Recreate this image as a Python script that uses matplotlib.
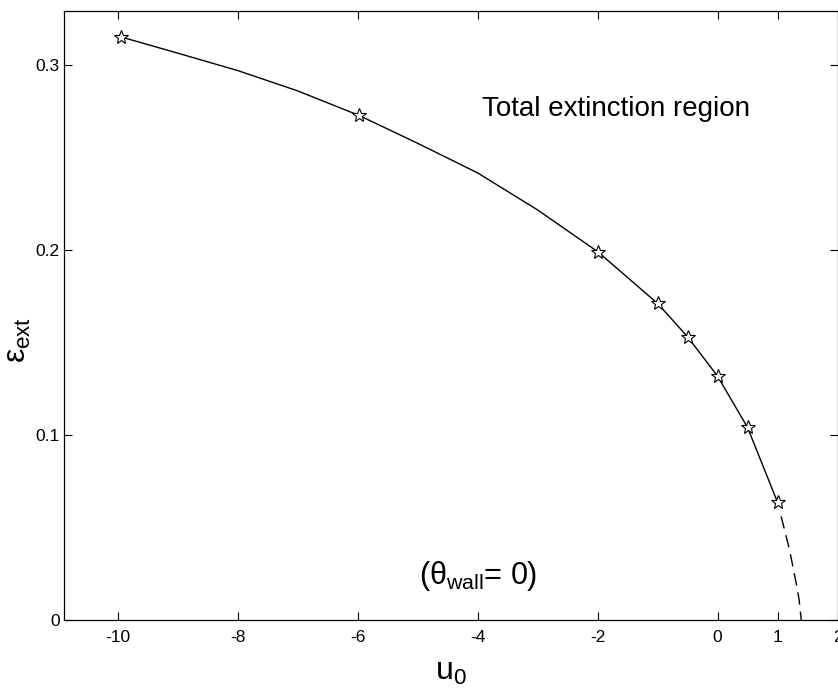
import matplotlib
matplotlib.use("Agg")
import matplotlib.pyplot as plt

plt.rcParams["font.family"] = ["Liberation Sans", "DejaVu Sans"]
plt.rcParams["mathtext.fontset"] = "custom"
plt.rcParams["mathtext.rm"] = "Liberation Sans"
plt.rcParams["mathtext.it"] = "Liberation Sans"
plt.rcParams["mathtext.bf"] = "Liberation Sans:bold"

# computed points (stars)
u_pts = [-9.95, -5.98, -2.0, -1.0, -0.5, 0.0, 0.5, 1.0]
eps_pts = [0.315, 0.2726, 0.199, 0.171, 0.153, 0.1317, 0.104, 0.0636]

# solid curve
u_curve = [-9.95, -9.0, -8.0, -7.0, -5.98, -5.0, -4.0, -3.0, -2.0,
           -1.0, -0.5, 0.0, 0.5, 1.0]
eps_curve = [0.315, 0.3062, 0.2968, 0.2858, 0.2726, 0.2575, 0.2415, 0.2215,
             0.199, 0.171, 0.153, 0.1317, 0.104, 0.0636]

# dashed extrapolation down to zero
u_dash = [1.06, 1.13, 1.20, 1.255, 1.31, 1.36, 1.395]
eps_dash = [0.056, 0.047, 0.038, 0.029, 0.020, 0.011, 0.0]

xticks = [-10, -8, -6, -4, -2, 0, 1, 2]
yticks = [0, 0.1, 0.2, 0.3]
ytick_labels = ["0", "0.1", "0.2", "0.3"]

fig = plt.figure(figsize=(8.38, 6.88), dpi=100)
ax = fig.add_axes([64 / 838, 68 / 688, 773.5 / 838, 609 / 688])

ax.plot(u_curve, eps_curve, color="black", lw=1.0)
ax.plot(u_dash, eps_dash, color="black", lw=1.0, dashes=(9, 5))
ax.plot(u_pts, eps_pts, ls="none", marker="*", ms=10, mfc="white",
        mec="black", mew=0.8)

ax.set_xlim(-10.9, 2.0)
ax.set_ylim(0, 0.329)
ax.set_xticks(xticks)
ax.set_xticklabels([str(t) for t in xticks])
ax.set_yticks(yticks)
ax.set_yticklabels(ytick_labels)
ax.tick_params(direction="in", top=True, right=True, length=6, width=0.8,
               labelsize=12.5)
ax.tick_params(axis="x", pad=7)
ax.tick_params(axis="y", pad=3)
for s in ax.spines.values():
    s.set_linewidth(0.9)

ax.text(-3.93, 0.2758, "Total extinction region", fontsize=20,
        ha="left", va="center")
ax.text(-4.98, 0.0237, r"($\theta_{\rm wall}$= 0)", fontsize=22,
        ha="left", va="center")

ax.set_xlabel(r"$\rm u_0$", fontsize=23)
ax.xaxis.set_label_coords(0.5, -0.061)
ax.set_ylabel(r"$\varepsilon_{\rm ext}$", fontsize=23)
ax.yaxis.set_label_coords(-0.04, 0.46)

fig.savefig("out.png", dpi=100)
